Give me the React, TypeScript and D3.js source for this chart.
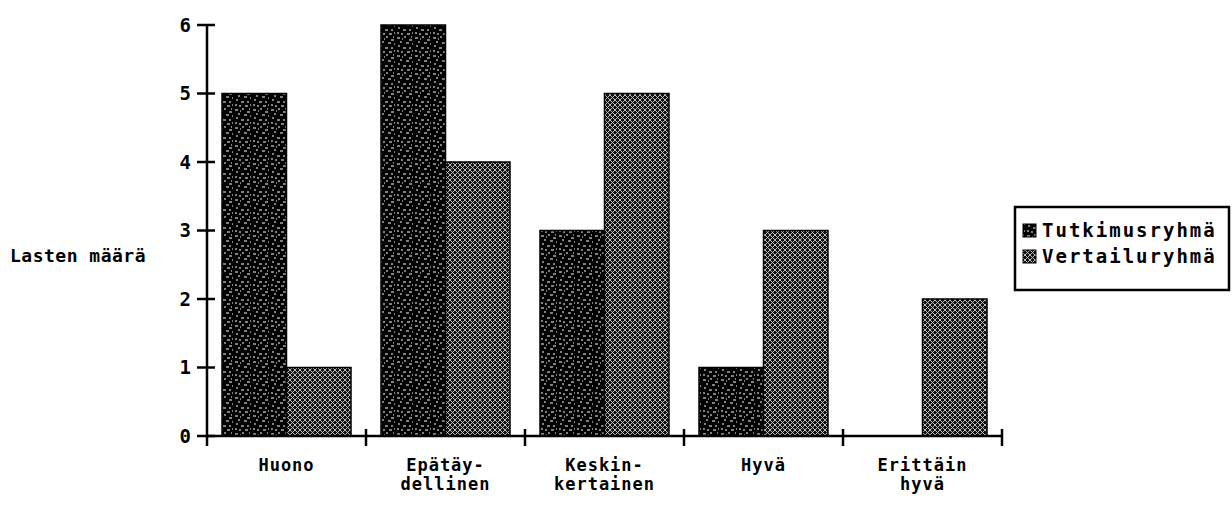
import React from "react";
import * as d3 from "d3";

const categories = ["Huono", "Epätäydellinen", "Keskinkertainen", "Hyvä", "Erittäin hyvä"];
const categoryLabels = [["Huono"], ["Epätäy-", "dellinen"], ["Keskin-", "kertainen"], ["Hyvä"], ["Erittäin", "hyvä"]];
const seriesNames = ["Tutkimusryhmä", "Vertailuryhmä"];
const tutkimusryhma = [5, 6, 3, 1, 0];
const vertailuryhma = [1, 4, 5, 3, 2];
const yTicks = [0, 1, 2, 3, 4, 5, 6];
const yLabel = "Lasten määrä";

const W = 1232;
const H = 506;
const FONT = "'DejaVu Sans Mono', monospace";

export default function App() {
  const x = d3.scaleBand<string>().domain(categories).range([207, 1002]).padding(0);
  const xSub = d3.scaleBand<string>().domain(seriesNames).range([15, 144]).padding(0);
  const y = d3.scaleLinear().domain([0, 6]).range([436, 25]);
  const series = [tutkimusryhma, vertailuryhma];
  const fills = ["url(#darkPat)", "url(#lightPat)"];
  const boundaries = categories.map((c) => x(c)! + x.bandwidth());

  return (
    <div style={{ position: "absolute", left: 0, top: 0 }}>
      <svg width={W} height={H} style={{ display: "block", background: "#fff" }}>
        <defs>
          <pattern id="darkPat" width="18" height="18" patternUnits="userSpaceOnUse">
            <rect width="18" height="18" fill="#000" />
            <path d="M1 2h3M8 1h2M13 4h3M4 6h2M10 7h3M16 8h1M2 10h2M7 12h3M13 12h2M1 15h2M5 16h2M11 16h3M16 15h1M6 3h1M15 1h1"
              stroke="#fff" strokeWidth="1.1" />
          </pattern>
          <pattern id="lightPat" width="5" height="5" patternUnits="userSpaceOnUse">
            <rect width="5" height="5" fill="#111" />
            <path d="M0 0L5 5M5 0L0 5" stroke="#fff" strokeWidth="0.9" opacity="0.8" />
          </pattern>
        </defs>

        {/* bars */}
        {series.map((vals, si) =>
          categories.map((c, ci) =>
            vals[ci] > 0 ? (
              <rect
                key={`${si}-${ci}`}
                x={x(c)! + xSub(seriesNames[si])!}
                y={y(vals[ci])}
                width={xSub.bandwidth()}
                height={y(0) - y(vals[ci])}
                fill={fills[si]}
                stroke="#000"
                strokeWidth={1.5}
              />
            ) : null
          )
        )}

        {/* y axis */}
        <line x1={207} x2={207} y1={y(6)} y2={446} stroke="#000" strokeWidth={2.5} />
        {yTicks.map((t) => (
          <g key={t}>
            <line x1={197} x2={215} y1={y(t)} y2={y(t)} stroke="#000" strokeWidth={2.5} />
            <text x={191} y={y(t)} dy="0.36em" textAnchor="end" fontFamily={FONT} fontWeight="bold" fontSize={19}>
              {t}
            </text>
          </g>
        ))}

        {/* x axis */}
        <line x1={207} x2={1002} y1={y(0)} y2={y(0)} stroke="#000" strokeWidth={2.5} />
        {boundaries.map((b, i) => (
          <line key={i} x1={b} x2={b} y1={429} y2={446} stroke="#000" strokeWidth={2.5} />
        ))}
        {categories.map((c, ci) => (
          <text key={c} textAnchor="middle" fontFamily={FONT} fontWeight="bold" fontSize={17} letterSpacing={1}>
            {categoryLabels[ci].map((ln, li) => (
              <tspan key={li} x={x(c)! + x.bandwidth() / 2} y={471 + li * 19}>
                {ln}
              </tspan>
            ))}
          </text>
        ))}

        {/* y label */}
        <text x={10} y={262} fontFamily={FONT} fontWeight="bold" fontSize={18} letterSpacing={0.5}>
          {yLabel}
        </text>

        {/* legend */}
        <rect x={1015} y={207} width={214} height={83} fill="#fff" stroke="#000" strokeWidth={2.5} />
        {seriesNames.map((s, i) => (
          <g key={s}>
            <rect x={1023} y={224 + i * 26} width={13} height={13} fill={fills[i]} stroke="#000" strokeWidth={1} />
            <text x={1042} y={237 + i * 26} fontFamily={FONT} fontWeight="bold" fontSize={19} letterSpacing={2}>
              {s}
            </text>
          </g>
        ))}
      </svg>
    </div>
  );
}
